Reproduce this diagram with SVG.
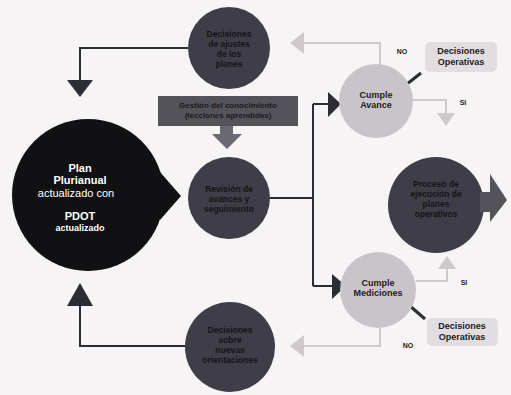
<svg xmlns="http://www.w3.org/2000/svg" width="511" height="395" viewBox="0 0 511 395">
<defs>
<style>
text{font-family:"Liberation Sans",Arial,sans-serif;text-anchor:middle}
.dk{fill:#3f3d47}
.lt{fill:#c9c4c9}
.tw{fill:#ffffff;font-weight:bold;font-size:11px}
.td{fill:#141418;font-size:8.5px;font-weight:bold}
.tl{fill:#1c1c22;font-size:9px;font-weight:bold}
.sm{fill:#222;font-size:7px;font-weight:bold}
.box{fill:#e2dde0}
.cd{stroke:#2c2c34;stroke-width:2;fill:none}
.cl{stroke:#cfc9cc;stroke-width:2;fill:none}
</style>
</defs>
<rect width="511" height="395" fill="#f6f4f4"/>
<g id="connectors">
<path class="cd" d="M188 48H80V82"/>
<polygon points="67,80 93,80 80,97" fill="#2c2c34"/>
<path class="cd" d="M270 198H313M313 104V286M313 104H330M313 286H333"/>
<polygon points="328,92 341,104 328,117" fill="#2c2c34"/>
<polygon points="332,274 346,286 332,299" fill="#2c2c34"/>
<path class="cd" d="M186 346H80V305"/>
<polygon points="67,306 93,306 80,283" fill="#2c2c34"/>
<path class="cl" d="M380 65V43H300"/>
<polygon points="304,32 290,43 304,54" fill="#cfc9cc"/>
<path class="cl" d="M413 100H446V114"/>
<polygon points="437,113 455,113 446,126" fill="#cfc9cc"/>
<path class="cl" d="M416 281H447V268"/>
<polygon points="438,269 456,269 447,256" fill="#cfc9cc"/>
<path class="cl" d="M380 328V346H302"/>
<polygon points="304,335 290,346 304,357" fill="#cfc9cc"/>
<path d="M421 73L407 84" stroke="#2c2c34" stroke-width="3"/>
<path d="M410 306L425 319" stroke="#2c2c34" stroke-width="3"/>
<polygon points="220,124 233,124 233,134 242,134 227,149 212,134 220,134" fill="#6a6870"/>
</g>
<g id="plan">
<circle cx="88" cy="195" r="76" fill="#111114"/>
<polygon points="150,184 160,184 160,172 181,196 160,220 160,208 150,208" fill="#111114"/>
<text class="tw" x="80" y="172">Plan</text>
<text class="tw" x="80" y="184">Plurianual</text>
<text x="76" y="197" fill="#fff" font-size="11">actualizado con</text>
<text class="tw" x="80" y="220">PDOT</text>
<text x="80" y="231" fill="#fff" font-size="9" font-weight="bold">actualizado</text>
</g>
<g id="decisiones-ajustes">
<circle class="dk" cx="229" cy="48" r="41"/>
<text class="td" x="229" y="37">Decisiones</text>
<text class="td" x="229" y="47">de ajustes</text>
<text class="td" x="229" y="57">de los</text>
<text class="td" x="229" y="67">planes</text>
</g>
<g id="gestion">
<rect x="158" y="96" width="140" height="30" fill="#55535a"/>
<text x="228" y="108" fill="#1a1a1e" font-size="8" font-weight="bold">Gestión del conocimiento</text>
<text x="228" y="118" fill="#1a1a1e" font-size="8" font-weight="bold">(lecciones aprendidas)</text>
</g>
<g id="revision">
<circle class="dk" cx="229" cy="198" r="41"/>
<text class="td" x="229" y="192">Revisión de</text>
<text class="td" x="229" y="202">avances y</text>
<text class="td" x="229" y="212">seguimiento</text>
</g>
<g id="cumple-avance">
<circle class="lt" cx="376" cy="101" r="37"/>
<text class="tl" x="376" y="98">Cumple</text>
<text class="tl" x="376" y="108">Avance</text>
</g>
<g id="decop-top">
<rect class="box" x="425" y="42" width="72" height="30" rx="5"/>
<text class="tl" x="461" y="54">Decisiones</text>
<text class="tl" x="461" y="65">Operativas</text>
<text class="sm" x="402" y="54">NO</text>
<text class="sm" x="463" y="105">SI</text>
</g>
<g id="proceso">
<circle class="dk" cx="436" cy="205" r="48"/>
<polygon points="480,192 490,192 490,174 507,200 490,222 490,212 480,212" fill="#55535a"/>
<text class="td" x="436" y="187">Proceso de</text>
<text class="td" x="436" y="197">ejecución de</text>
<text class="td" x="436" y="207">planes</text>
<text class="td" x="436" y="217">operativos</text>
</g>
<g id="cumple-mediciones">
<circle class="lt" cx="378" cy="290" r="38"/>
<text class="tl" x="378" y="286">Cumple</text>
<text class="tl" x="378" y="296">Mediciones</text>
<text class="sm" x="464" y="285">SI</text>
</g>
<g id="decop-bottom">
<rect class="box" x="427" y="318" width="71" height="28" rx="5"/>
<text class="tl" x="462" y="329">Decisiones</text>
<text class="tl" x="462" y="340">Operativas</text>
<text class="sm" x="408" y="348">NO</text>
</g>
<g id="nuevas-orientaciones">
<circle class="dk" cx="230" cy="347" r="45"/>
<text class="td" x="230" y="333">Decisiones</text>
<text class="td" x="230" y="343">sobre</text>
<text class="td" x="230" y="353">nuevas</text>
<text class="td" x="230" y="363">orientaciones</text>
</g>
</svg>
